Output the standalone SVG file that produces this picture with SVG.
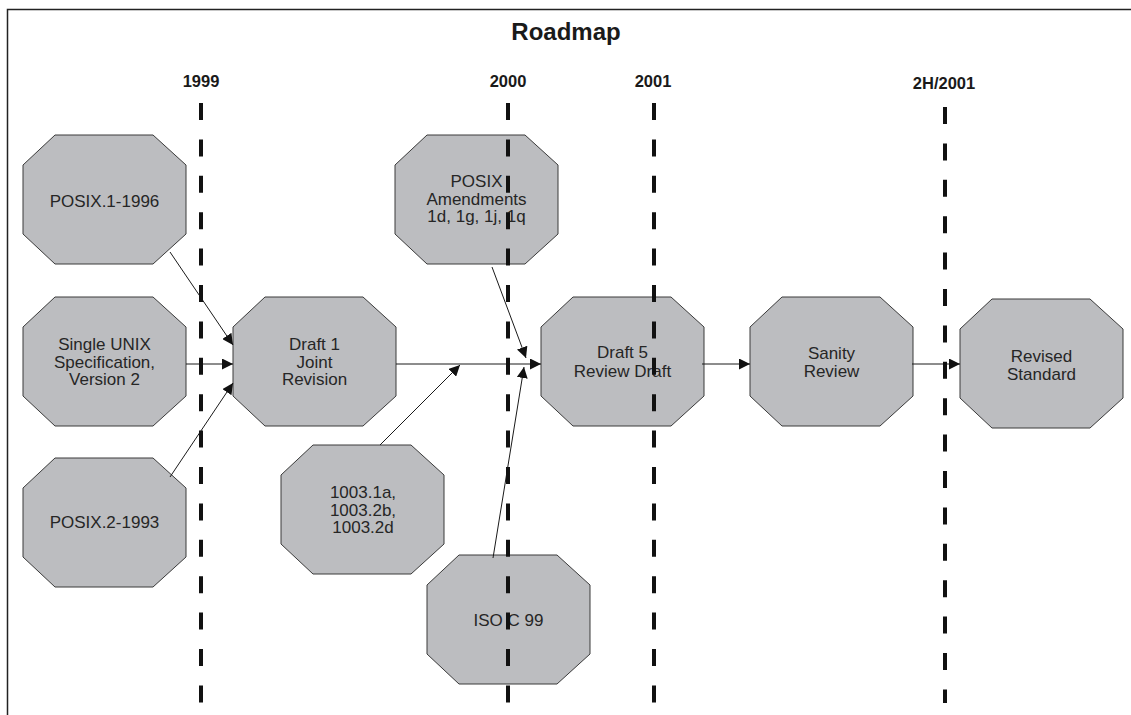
<svg xmlns="http://www.w3.org/2000/svg" xmlns:xlink="http://www.w3.org/1999/xlink" width="1131" height="715" viewBox="0 0 1131 715">
<style>
.oct{fill:#bcbdc0;stroke:#3a3a3a;stroke-width:1}
.lbl{font-family:"Liberation Sans",Arial,sans-serif;font-size:17px;fill:#262626;text-anchor:middle}
.yr{font-family:"Liberation Sans",Arial,sans-serif;font-size:16.5px;font-weight:bold;fill:#1a1a1a;text-anchor:middle}
.title{font-family:"Liberation Sans",Arial,sans-serif;font-size:24px;font-weight:bold;fill:#1a1a1a;text-anchor:middle}
.tl{stroke:#111;stroke-width:4;stroke-dasharray:17 19.4;fill:none}
.cn{stroke:#1a1a1a;stroke-width:1;fill:none;marker-end:url(#ah)}
.frame{stroke:#222;stroke-width:1.5;fill:none}
</style>
<defs>
<polygon id="octa" points="32,0 130,0 163,30 163,99 130,129 32,129 0,99 0,30"/>
<marker id="ah" markerUnits="userSpaceOnUse" markerWidth="11" markerHeight="11" refX="11" refY="5.5" orient="auto">
<path d="M0,0 L11,5.5 L0,11 z" fill="#111"/>
</marker>
</defs>
<rect width="1131" height="715" fill="#fff"/>
<g id="frame">
<path class="frame" d="M7.5,715 V9.5 H1131"/>
<text class="title" x="566" y="40">Roadmap</text>
</g>
<g id="n-posix1">
<use xlink:href="#octa" class="oct" x="23" y="135"/>
<text class="lbl" x="104.5" y="207">POSIX.1-1996</text>
</g>
<g id="n-sus">
<use xlink:href="#octa" class="oct" x="23" y="297"/>
<text class="lbl" x="104.5" y="350">Single UNIX</text>
<text class="lbl" x="104.5" y="367.5">Specification,</text>
<text class="lbl" x="104.5" y="385">Version 2</text>
</g>
<g id="n-posix2">
<use xlink:href="#octa" class="oct" x="23" y="458"/>
<text class="lbl" x="104.5" y="528">POSIX.2-1993</text>
</g>
<g id="n-draft1">
<use xlink:href="#octa" class="oct" x="233" y="297"/>
<text class="lbl" x="314.5" y="350">Draft 1</text>
<text class="lbl" x="314.5" y="367.5">Joint</text>
<text class="lbl" x="314.5" y="385">Revision</text>
</g>
<g id="n-1003">
<use xlink:href="#octa" class="oct" x="281" y="445"/>
<text class="lbl" x="363" y="498">1003.1a,</text>
<text class="lbl" x="363" y="515.5">1003.2b,</text>
<text class="lbl" x="363" y="533">1003.2d</text>
</g>
<g id="n-isoc">
<use xlink:href="#octa" class="oct" x="427" y="555"/>
<text class="lbl" x="508.5" y="626">ISO C 99</text>
</g>
<g id="n-amend">
<use xlink:href="#octa" class="oct" x="395" y="135"/>
<text class="lbl" x="476.5" y="187">POSIX</text>
<text class="lbl" x="476.5" y="204.5">Amendments</text>
<text class="lbl" x="476.5" y="222">1d, 1g, 1j, 1q</text>
</g>
<g id="n-draft5">
<use xlink:href="#octa" class="oct" x="541" y="297"/>
<text class="lbl" x="622.5" y="358">Draft 5</text>
<text class="lbl" x="622.5" y="376.5">Review Draft</text>
</g>
<g id="n-sanity">
<use xlink:href="#octa" class="oct" x="750" y="297"/>
<text class="lbl" x="831.5" y="359">Sanity</text>
<text class="lbl" x="831.5" y="377">Review</text>
</g>
<g id="n-revised">
<use xlink:href="#octa" class="oct" x="960" y="299"/>
<text class="lbl" x="1041.5" y="362">Revised</text>
<text class="lbl" x="1041.5" y="379.5">Standard</text>
</g>
<g id="connectors">
<line class="cn" x1="170" y1="252" x2="233" y2="345"/>
<line class="cn" x1="186" y1="364" x2="233" y2="364"/>
<line class="cn" x1="170" y1="477" x2="233" y2="383"/>
<line class="cn" x1="396" y1="364" x2="541" y2="364"/>
<line class="cn" x1="380" y1="445" x2="460" y2="365"/>
<line class="cn" x1="492" y1="267" x2="526" y2="358"/>
<line class="cn" x1="493" y1="558" x2="524" y2="367"/>
<line class="cn" x1="702" y1="364" x2="750" y2="364"/>
<line class="cn" x1="912" y1="364" x2="960" y2="364"/>
</g>
<g id="timeline">
<text class="yr" x="201" y="87">1999</text>
<text class="yr" x="508" y="87">2000</text>
<text class="yr" x="653" y="87">2001</text>
<text class="yr" x="944" y="89">2H/2001</text>
<line class="tl" x1="201" y1="103" x2="201" y2="703"/>
<line class="tl" x1="508" y1="103" x2="508" y2="703"/>
<line class="tl" x1="654" y1="103" x2="654" y2="703"/>
<line class="tl" x1="945" y1="107" x2="945" y2="703"/>
</g>
</svg>
